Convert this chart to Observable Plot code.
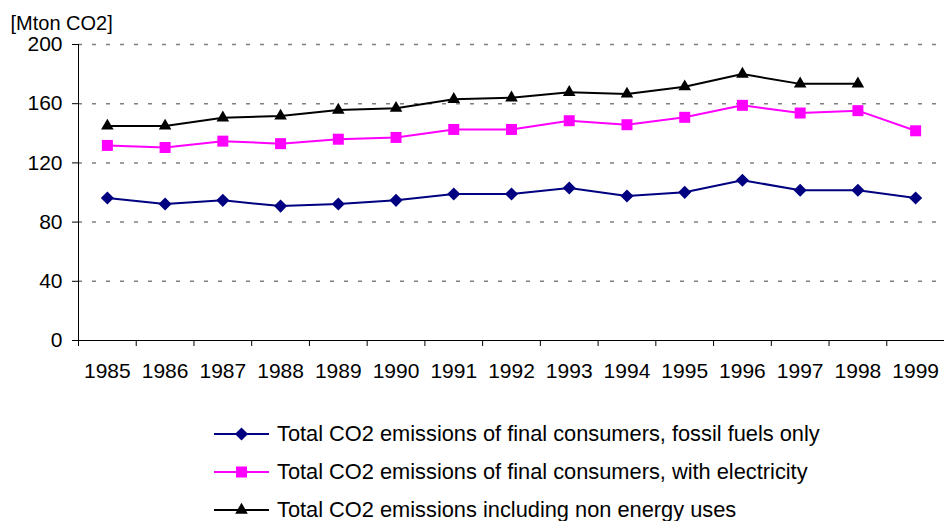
<!DOCTYPE html>
<html>
<head>
<meta charset="utf-8">
<script src="https://cdn.jsdelivr.net/npm/d3@7"></script>
<script src="https://cdn.jsdelivr.net/npm/@observablehq/plot@0.6"></script>
<style>
  body { margin: 0; background: #fff; font-family: "Liberation Sans", Arial, sans-serif; }
  #chart svg { display: block; }
  .legend { margin-left: 214px; margin-top: 25px; }
  .legend .row { display: flex; align-items: center; height: 38px; font-size: 21.8px; color: #000; }
  .legend svg { margin-right: 8px; }
</style>
</head>
<body>
<div id="chart"></div>
<div class="legend" id="legend"></div>
<script>
// data
const years = [1985, 1986, 1987, 1988, 1989, 1990, 1991, 1992, 1993, 1994, 1995, 1996, 1997, 1998, 1999];
const fossil = [96.3, 92.2, 94.7, 90.8, 92.2, 94.7, 99, 99, 103, 97.6, 100.1, 108.3, 101.5, 101.5, 96.3];
const electricity = [131.8, 130.4, 134.7, 133, 136, 137.2, 142.6, 142.6, 148.5, 145.8, 150.8, 158.9, 153.7, 155.3, 141.7];
const nonEnergy = [145, 145, 150.5, 151.7, 155.7, 157, 163, 164, 167.7, 166.6, 171.5, 180, 173.4, 173.4];
const yTicks = [0, 40, 80, 120, 160, 200];

const series = [
  {name: "Total CO2 emissions of final consumers, fossil fuels only", values: fossil, color: "#000080", symbol: "diamond2", r: 5.9},
  {name: "Total CO2 emissions of final consumers, with electricity", values: electricity, color: "#ff00ff", symbol: "square2", r: 7},
  {name: "Total CO2 emissions including non energy uses", values: nonEnergy, color: "#000000", symbol: "triangle2", r: 6}
];

// tick marks sit between the categories
let boundaries = years.map(y => y - 0.5).concat([years[years.length - 1] + 0.5]);

let marks = [
  Plot.gridY({ticks: yTicks.slice(1), stroke: "#808080", strokeOpacity: 1, strokeWidth: 1.5, strokeDasharray: "4,10"}),
  Plot.axisY({ticks: yTicks, tickSize: 6, tickPadding: 10, label: null}),
  Plot.axisX({ticks: years, tickSize: 0, tickPadding: 23, tickFormat: d => String(d), label: null}),
  Plot.axisX({ticks: boundaries, tickSize: 6, tickFormat: () => "", label: null}),
  Plot.ruleY([0], {stroke: "#000"}),
  Plot.ruleX([boundaries[0]], {y1: 0, y2: 200, stroke: "#000"}),
  Plot.text(["[Mton CO2]"], {frameAnchor: "top-left", textAnchor: "start", dx: -68, dy: -29, fontSize: 20})
];

series.forEach(s => {
  let rows = s.values.map((v, i) => ({year: years[i], value: v}));
  marks.push(Plot.line(rows, {x: "year", y: "value", stroke: s.color, strokeWidth: 2}));
  marks.push(Plot.dot(rows, {x: "year", y: "value", symbol: () => s.symbol, r: s.r, fill: s.color, stroke: "none"}));
});

let chart = Plot.plot({
  width: 944,
  height: 390,
  marginTop: 44,
  marginBottom: 50,
  marginLeft: 78,
  marginRight: 0,
  x: {type: "linear", domain: [boundaries[0], boundaries[boundaries.length - 1]]},
  y: {domain: [0, 200]},
  symbol: {type: "identity"},
  style: {fontSize: "21px", fontFamily: "'Liberation Sans', Arial, sans-serif", color: "#000", background: "#fff"},
  marks: marks
});
document.getElementById("chart").append(chart);

// legend below the chart
let legend = d3.select("#legend");
series.forEach(s => {
  let row = legend.append("div").attr("class", "row");
  let svg = row.append("svg").attr("width", 55).attr("height", 16);
  svg.append("line").attr("x1", 0).attr("x2", 55).attr("y1", 8).attr("y2", 8)
    .attr("stroke", s.color).attr("stroke-width", 2);
  let sym = {diamond2: d3.symbolDiamond2, square2: d3.symbolSquare2, triangle2: d3.symbolTriangle2}[s.symbol];
  svg.append("path").attr("transform", "translate(27.5,8)")
    .attr("d", d3.symbol(sym, Math.PI * s.r * s.r)())
    .attr("fill", s.color);
  row.append("span").text(s.name);
});
</script>
</body>
</html>
